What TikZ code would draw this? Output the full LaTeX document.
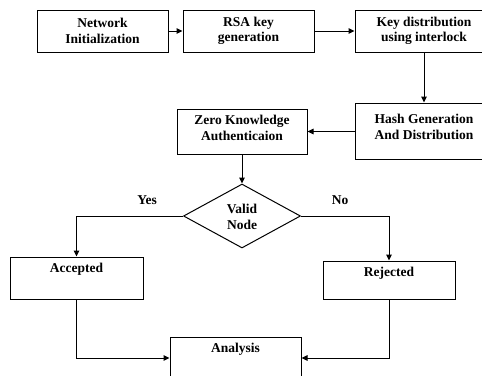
\documentclass[tikz,border=0pt]{standalone}
\usepackage{fontspec}
\setmainfont{Liberation Serif}
\usetikzlibrary{arrows.meta,shapes.geometric}
\begin{document}
\begin{tikzpicture}[x=1pt,y=-1pt,
  box/.style={draw,line width=1pt,inner sep=0pt,align=center,font=\fontsize{13.5}{15.5}\selectfont\bfseries},
  lbl/.style={inner sep=0pt,align=center,font=\fontsize{13.5}{15.5}\selectfont\bfseries},
  arr/.style={line width=1pt,-{Triangle[length=6pt,width=5.5pt]}},
  ln/.style={line width=1pt}]
\useasboundingbox (0,0) rectangle (482,375);
\node[box,minimum width=131pt,minimum height=42pt] (n1) at (102.5,31) {Network\\Initialization};
\node[box,minimum width=131pt,minimum height=42pt] (n2) at (248.5,31) {RSA key\\generation};
\node[box,minimum width=138pt,minimum height=42pt] (n3) at (424,31) {Key distribution\\using interlock};
\node[box,minimum width=138pt,minimum height=56pt] (hash) at (424,131) {};
\node[lbl] (hasht) at (424,127) {Hash Generation\\And Distribution};
\node[box,minimum width=130pt,minimum height=45pt] (zk) at (242,131.5) {};
\node[lbl] (zkt) at (242,128) {Zero Knowledge\\Authenticaion};
\node[draw,line width=1pt,diamond,inner sep=0pt,minimum width=117pt,minimum height=64pt] (dia) at (242,216) {};
\node[lbl] (diat) at (242,217) {Valid\\Node};
\node[lbl] (yes) at (147,200) {Yes};
\node[lbl] (no) at (340,200) {No};
\node[box,minimum width=133pt,minimum height=42pt] (acc) at (76.5,278) {};
\node[lbl] (acct) at (76.5,269) {Accepted};
\node[box,minimum width=132pt,minimum height=38pt] (rej) at (389,280) {};
\node[lbl] (rejt) at (389,273) {Rejected};
\node[box,minimum width=131pt,minimum height=42pt] (ana) at (235.5,358) {};
\node[lbl] (anat) at (235.5,349) {Analysis};
\draw[arr] (n1) -- (n2);
\draw[arr] (n2) -- (n3);
\draw[arr] (n3.south) -- (hash.north);
\draw[arr] (hash.west |- zk.east) -- (zk.east);
\draw[arr] (zk.south) -- (dia.north);
\draw[arr] (dia.west) -| (acc.north);
\draw[arr] (dia.east) -| (rej.north);
\draw[arr] (acc.south) |- (ana.west);
\draw[arr] (rej.south) |- (ana.east);
\end{tikzpicture}
\end{document}
